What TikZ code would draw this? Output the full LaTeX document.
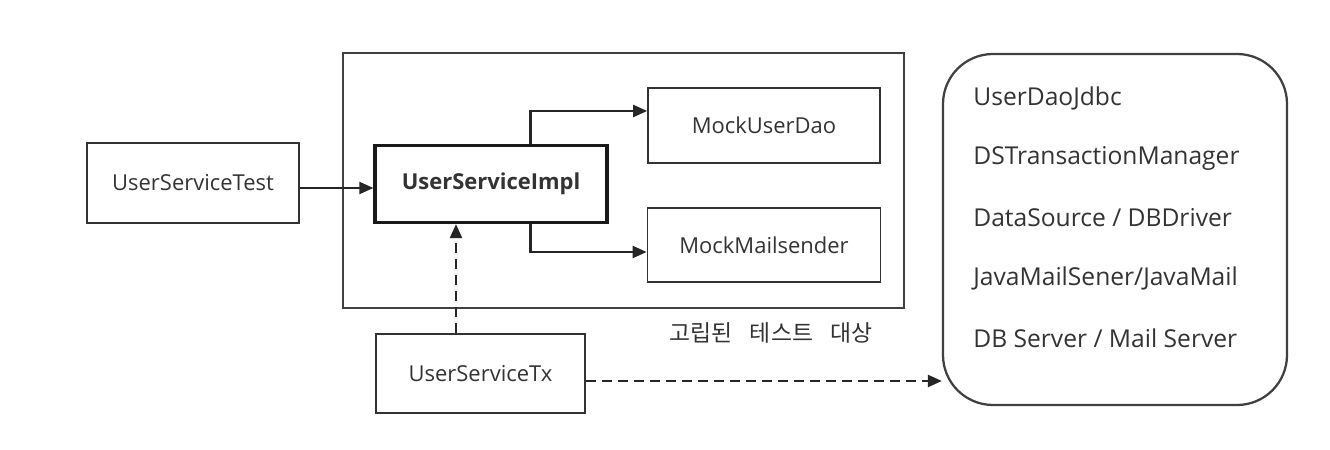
\documentclass[tikz,border=0pt]{standalone}
\usepackage{fontspec}
\setmainfont{Open Sans}
\newfontfamily\krfont{Noto Sans CJK KR}
\usetikzlibrary{arrows.meta,positioning}

\tikzset{
  unit/.style={draw=black!80,line width=0.35mm,text=black!80,font=\fontsize{12.5}{15}\selectfont,inner sep=0pt},
  target/.style={unit,line width=0.65mm,draw=black!90,font=\bfseries\fontsize{12.5}{15}\selectfont},
  arr/.style={-{Triangle[length=2.8mm,width=2.4mm]},line width=0.45mm,draw=black!85},
  dasharr/.style={arr,dash pattern=on 2mm off 1.2mm},
}

\begin{document}
\begin{tikzpicture}[x=0.2mm,y=-0.2mm]
  \useasboundingbox[fill=white] (0,0) rectangle (1330,450);
  % isolated group
  \node[draw=black!75,line width=0.45mm,minimum width=112.2mm,minimum height=51mm,inner sep=0pt] (group) at (623.5,180.5) {};
  \node[text=black!80,font=\krfont\fontsize{13}{15}\selectfont] (grouplabel) at (771,333) {고립된\hspace{0.75em}테스트\hspace{0.75em}대상};
  % boxes
  \node[unit,minimum width=42.4mm,minimum height=16mm] (test) at (193,183) {UserServiceTest};
  \node[target,minimum width=46.4mm,minimum height=15.4mm] (impl) at (491,184) {UserServiceImpl};
  \node[unit,minimum width=46.4mm,minimum height=15mm] (dao) at (764,125.5) {MockUserDao};
  \node[unit,minimum width=46.6mm,minimum height=14.8mm] (mail) at (764,245) {MockMailsender};
  \node[unit,minimum width=41.8mm,minimum height=15.8mm] (tx) at (480.5,373.5) {UserServiceTx};
  % real dependencies
  \node[draw=black!75,line width=0.45mm,rounded corners=10mm,minimum width=68.8mm,minimum height=70.2mm,inner sep=0pt] (backend) at (1115,229.5) {};
  \foreach \txt [count=\i] in {UserDaoJdbc,DSTransactionManager,{DataSource / DBDriver},{JavaMailSener/JavaMail},{DB Server / Mail Server}}
    \node[anchor=west,inner sep=0pt,text=black!80,font=\fontsize{14}{16}\selectfont] (item\i) at (973,38+60*\i) {\txt};
  % arrows
  \draw[arr] ([yshift=-1mm]test.east) -- ([yshift=-1mm]test.east -| impl.west);
  \draw[arr] ([xshift=31.4mm]impl.north west) |- ([yshift=2.9mm]dao.west);
  \draw[arr] ([xshift=31.4mm]impl.south west) |- ([yshift=-1.4mm]mail.west);
  \draw[dasharr] ([xshift=-4.9mm]tx.north) -- ([xshift=-4.9mm]tx.north |- impl.south);
  \draw[dasharr] ([yshift=-1.5mm]tx.east) -- ([yshift=-1.5mm]tx.east -| backend.west);
\end{tikzpicture}
\end{document}
